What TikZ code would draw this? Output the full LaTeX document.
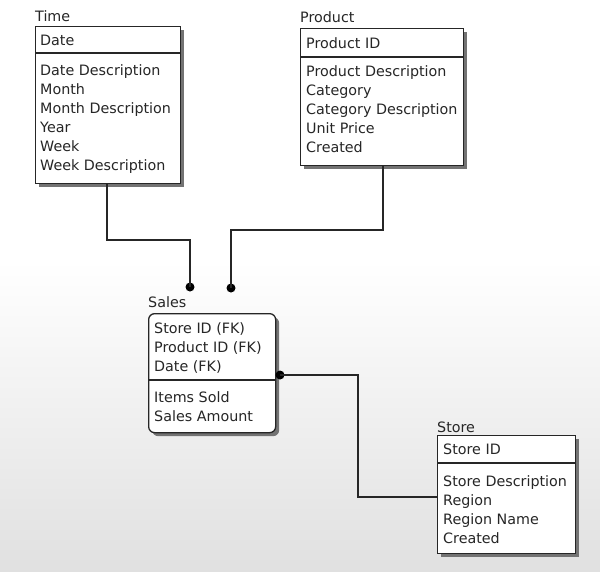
\documentclass[tikz,border=0pt]{standalone}
\usepackage{fontspec}
\setmainfont{DejaVu Sans}
\usetikzlibrary{positioning,shadows}

\begin{document}
\begin{tikzpicture}[x=1pt, y=-1pt,
    every node/.style={font=\fontsize{14.3}{19}\selectfont, text=black!85},
    tbl/.style={draw=black!85, line width=1.3pt, fill=white, anchor=north west, inner sep=0pt,
      drop shadow={shadow xshift=3.5pt, shadow yshift=-3.5pt, opacity=1, fill=black!55}},
    fld/.style={anchor=north west, align=left, inner sep=0pt},
    ttl/.style={anchor=base west, inner sep=0pt},
    link/.style={draw=black!85, line width=1.3pt},
    dot/.style={circle, fill=black, inner sep=0pt, minimum size=9pt}]

    \useasboundingbox (0,0) rectangle (600,571);
    \fill[white] (0,0) rectangle (600,260);
    \shade[top color=white, bottom color=black!12] (0,260) rectangle (600,571);

    % Time
    \node[ttl] (timettl) at (35,21) {Time};
    \node[tbl, minimum width=145pt, minimum height=157pt] (time) at (35,26) {};
    \draw[link] (time.west |- 0,53) -- (time.east |- 0,53);
    \node[fld] (timekey) at (40,35) {Date};
    \node[fld] (timeatt) at (40,64.5) {Date Description\\Month\\Month Description\\Year\\Week\\Week Description};

    % Product
    \node[ttl] (prodttl) at (300,22) {Product};
    \node[tbl, minimum width=163pt, minimum height=137pt] (prod) at (300,28) {};
    \draw[link] (prod.west |- 0,57) -- (prod.east |- 0,57);
    \node[fld] (prodkey) at (306,37.5) {Product ID};
    \node[fld] (prodatt) at (306,65.5) {Product Description\\Category\\Category Description\\Unit Price\\Created};

    % Sales
    \node[ttl] (salesttl) at (148,307) {Sales};
    \node[tbl, rounded corners=6pt, minimum width=127pt, minimum height=119pt] (sales) at (148,313) {};
    \draw[link] (sales.west |- 0,380) -- (sales.east |- 0,380);
    \node[fld] (saleskey) at (154,322) {Store ID (FK)\\Product ID (FK)\\Date (FK)};
    \node[fld] (salesatt) at (154,391) {Items Sold\\Sales Amount};

    % Store
    \node[ttl] (storettl) at (437,432) {Store};
    \node[tbl, minimum width=138pt, minimum height=118pt] (store) at (437,435) {};
    \draw[link] (store.west |- 0,463) -- (store.east |- 0,463);
    \node[fld] (storekey) at (443,444) {Store ID};
    \node[fld] (storeatt) at (443,475) {Store Description\\Region\\Region Name\\Created};

    \node[dot] (tdot) at (190,287) {};
    \node[dot] (pdot) at (231,288) {};
    \node[dot] (sdot) at (280,375) {};

    \draw[link] (time.south -| 107,0) -- (107,240) -| (tdot.center);
    \draw[link] (prod.south -| 383,0) -- (383,230) -| (pdot.center);
    \draw[link] (sdot.center) -- (358,375) |- (store.west |- 0,497);
\end{tikzpicture}
\end{document}
